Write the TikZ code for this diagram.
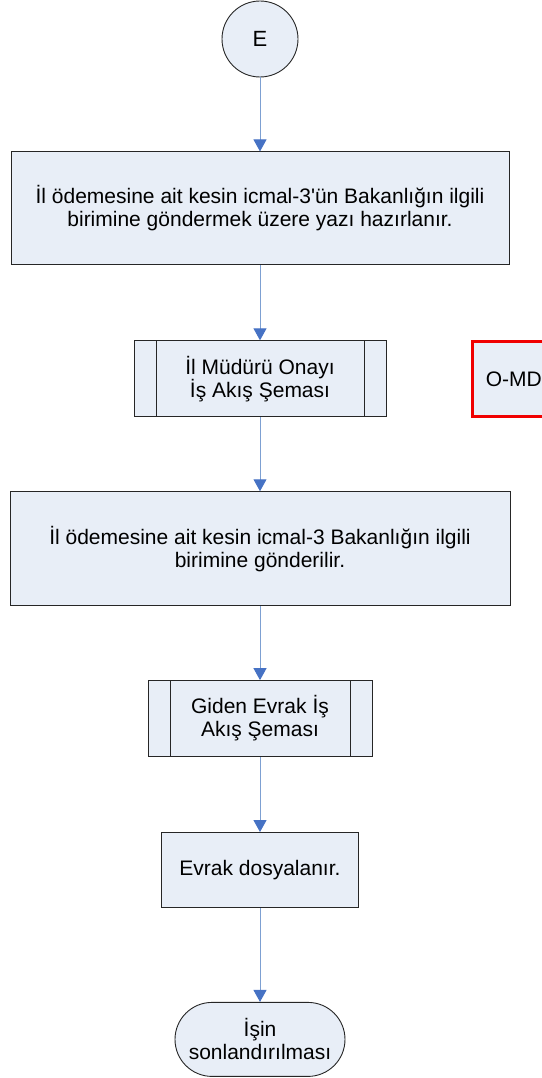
\documentclass[tikz,border=0pt]{standalone}
\usepackage{fontspec}
\setmainfont{Liberation Sans}
\usepackage{tikz}
\usetikzlibrary{
  arrows.meta,
  positioning
}
\definecolor{boxfill}{RGB}{232,238,247}
\definecolor{arrowline}{RGB}{125,160,210}
\definecolor{arrowtip}{RGB}{70,114,196}
\definecolor{omdred}{RGB}{240,0,0}
\tikzset{
  block/.style={
    rectangle, draw=black!85, line width=0.9pt, fill=boxfill,
    align=center, inner sep=2pt,
    font=\fontsize{21}{23}\selectfont
  },
  procblock/.style={
    block,
    path picture={
      \draw[black!85, line width=0.9pt]
        ([xshift=22pt]path picture bounding box.north west) --
        ([xshift=22pt]path picture bounding box.south west);
      \draw[black!85, line width=0.9pt]
        ([xshift=-22pt]path picture bounding box.north east) --
        ([xshift=-22pt]path picture bounding box.south east);
    }
  },
  connector/.style={
    circle, draw=black!85, line width=0.9pt, fill=boxfill,
    minimum size=76pt, inner sep=0pt,
    font=\fontsize{22}{24}\selectfont
  },
  terminal/.style={
    block, rounded corners=37pt
  },
  refblock/.style={
    block, draw=omdred, line width=2.6pt
  },
  arrow/.style={
    draw=arrowline, line width=1pt,
    -{Triangle[length=12pt, width=13pt, color=arrowtip]}
  }
}

\begin{document}
\begin{tikzpicture}[x=1pt, y=1pt, node distance=75pt]

\useasboundingbox (0,0) rectangle (541,-1078);

% ── Start connector ─────────────────────────────────────────────────────────
\node[connector] (start) at (260,-39) {E};

% ── Process steps ───────────────────────────────────────────────────────────
\node[block, below=74pt of start, minimum width=498pt, minimum height=113pt]
  (yazi) {İl ödemesine ait kesin icmal-3\textquotesingle ün Bakanlığın ilgili\\birimine göndermek üzere yazı hazırlanır.};
\node[procblock, below=75pt of yazi, minimum width=252pt, minimum height=76pt]
  (onay) {İl Müdürü Onayı\\İş Akış Şeması};
\node[block, below=74pt of onay, minimum width=500pt, minimum height=114pt]
  (gonder) {İl ödemesine ait kesin icmal-3 Bakanlığın ilgili\\birimine gönderilir.};
\node[procblock, below=74pt of gonder, minimum width=224pt, minimum height=76pt]
  (giden) {Giden Evrak İş\\Akış Şeması};
\node[block, below=75pt of giden, minimum width=197pt, minimum height=75pt]
  (dosya) {Evrak dosyalanır.};
\node[terminal, below=94pt of dosya, minimum width=170pt, minimum height=74pt]
  (bitis) {İşin\\sonlandırılması};

% Reference box (cut at the page edge)
\node[refblock, right=85pt of onay, minimum width=82pt, minimum height=75pt]
  (omd) {O-MD};

% ── Connectors ──────────────────────────────────────────────────────────────
\draw[arrow] (start) -- (yazi);
\draw[arrow] (yazi) -- (onay);
\draw[arrow] (onay) -- (gonder);
\draw[arrow] (gonder) -- (giden);
\draw[arrow] (giden) -- (dosya);
\draw[arrow] (dosya) -- (bitis);

\end{tikzpicture}
\end{document}
